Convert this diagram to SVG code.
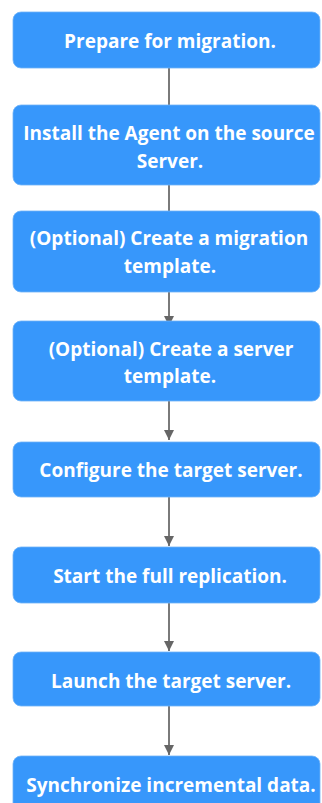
<svg xmlns="http://www.w3.org/2000/svg" width="322" height="803" viewBox="0 0 322 803">
<defs>
<style>
.box{fill:#3797fb;stroke:#6fb3f7;stroke-width:0.8}
.t{font-family:"Open Sans","Noto Sans","Liberation Sans",sans-serif;font-weight:bold;font-size:19px;fill:#ffffff;text-anchor:middle}
.ln{stroke:#7a7a7a;stroke-width:2;fill:none}
</style>
<marker id="ah" viewBox="0 0 10 10" refX="10" refY="5" markerWidth="5" markerHeight="5" markerUnits="strokeWidth" orient="auto">
<path d="M0,0 L10,5 L0,10 z" fill="#666666"/>
</marker>
</defs>
<rect width="322" height="803" fill="#ffffff"/>
<g id="connectors">
<line class="ln" x1="169" y1="68" x2="169" y2="105"/>
<line class="ln" x1="169" y1="185" x2="169" y2="211"/>
<line class="ln" x1="169" y1="292" x2="169" y2="326" marker-end="url(#ah)"/>
<line class="ln" x1="169" y1="401" x2="169" y2="440" marker-end="url(#ah)"/>
<line class="ln" x1="169" y1="497" x2="169" y2="546" marker-end="url(#ah)"/>
<line class="ln" x1="169" y1="603" x2="169" y2="651" marker-end="url(#ah)"/>
<line class="ln" x1="169" y1="706" x2="169" y2="755" marker-end="url(#ah)"/>
</g>
<g id="n1"><rect class="box" x="13" y="12" width="307" height="56" rx="8"/><text class="t" x="170" y="48">Prepare for migration.</text></g>
<g id="n2"><rect class="box" x="13" y="105" width="307" height="80" rx="8"/><text class="t" x="169" y="140">Install the Agent on the source</text><text class="t" x="170" y="168">Server.</text></g>
<g id="n3"><rect class="box" x="13" y="211" width="307" height="81" rx="8"/><text class="t" x="169" y="245">(Optional) Create a migration</text><text class="t" x="170" y="273">template.</text></g>
<g id="n4"><rect class="box" x="13" y="321" width="307" height="80" rx="8"/><text class="t" x="171" y="356">(Optional) Create a server</text><text class="t" x="170" y="383">template.</text></g>
<g id="n5"><rect class="box" x="13" y="442" width="307" height="55" rx="8"/><text class="t" x="171" y="477">Configure the target server.</text></g>
<g id="n6"><rect class="box" x="13" y="547" width="307" height="56" rx="8"/><text class="t" x="170" y="583">Start the full replication.</text></g>
<g id="n7"><rect class="box" x="13" y="652" width="307" height="54" rx="8"/><text class="t" x="171" y="688">Launch the target server.</text></g>
<g id="n8"><rect class="box" x="13" y="756" width="307" height="60" rx="8"/><text class="t" x="171" y="792">Synchronize incremental data.</text></g>
</svg>
